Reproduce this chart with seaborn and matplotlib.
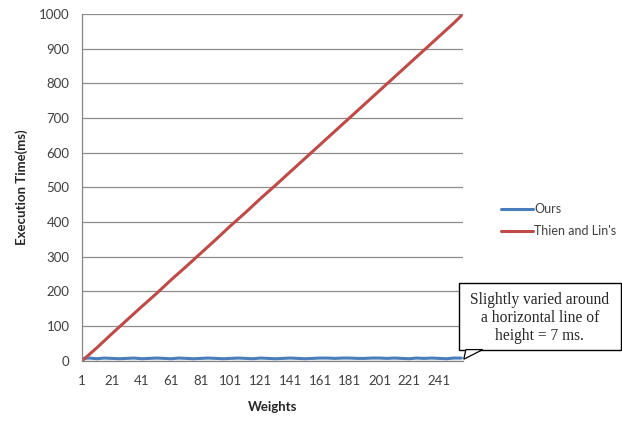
import numpy as np
import pandas as pd
import matplotlib
matplotlib.use("Agg")
import matplotlib.pyplot as plt
from matplotlib.patches import Rectangle, Polygon
import seaborn as sns

red_w = [1, 11, 21, 31, 41, 51, 61, 71, 81, 91, 101, 111, 121, 131, 141, 151,
         161, 171, 181, 191, 201, 211, 221, 231, 241, 251, 256]
red_t = [0, 38, 78, 117, 156, 194, 234, 272, 311, 350, 390, 428, 468, 506, 545, 584,
         623, 662, 701, 740, 779, 818, 857, 896, 935, 974, 995]

blue_w = [1, 6, 11, 16, 21, 26, 31, 36, 41, 46, 51, 56, 61, 66, 71, 76, 81, 86, 91, 96,
          101, 106, 111, 116, 121, 126, 131, 136, 141, 146, 151, 156, 161, 166, 171, 176,
          181, 186, 191, 196, 201, 206, 211, 216, 221, 226, 231, 236, 241, 246, 251, 256]
blue_t = [7, 8, 6, 8, 7, 6, 7, 8, 6, 7, 8, 7, 6, 8, 7, 6, 7, 8, 7, 6,
          7, 8, 7, 6, 8, 7, 6, 7, 8, 7, 6, 7, 8, 8, 7, 8,
          8, 7, 7, 8, 8, 7, 8, 7, 6, 8, 7, 8, 7, 6, 8, 8]

series_names = ["Ours", "Thien and Lin's"]
x_ticks = list(range(1, 256, 20))
y_ticks = list(range(0, 1001, 100))

df = pd.concat([
    pd.DataFrame({"Weights": blue_w, "Time": blue_t, "Method": series_names[0]}),
    pd.DataFrame({"Weights": red_w, "Time": red_t, "Method": series_names[1]}),
])

sns.set_style("white")
plt.rcParams["font.family"] = ["Lato", "DejaVu Sans"]

fig = plt.figure(figsize=(6.22, 4.24), dpi=100)
ax = fig.add_axes([0.132, 0.149, 0.612, 0.818])

sns.lineplot(data=df, x="Weights", y="Time", hue="Method",
             palette=["#4A7EBB", "#BE4B48"], linewidth=2.2, ax=ax)

ax.set_xlim(1, 257)
ax.set_ylim(0, 1000)
ax.set_xticks(x_ticks)
ax.set_yticks(y_ticks)
ax.tick_params(axis="both", labelsize=9.5, colors="#404040")
ax.tick_params(axis="y", length=5, color="#868686", pad=4)
ax.tick_params(axis="x", length=0, pad=10)
ax.yaxis.grid(True, color="#8c8c8c", linewidth=0.9)
ax.set_axisbelow(True)
for s in ["top", "right"]:
    ax.spines[s].set_visible(False)
for s in ["left", "bottom"]:
    ax.spines[s].set_color("#868686")
    ax.spines[s].set_linewidth(0.9)

ax.set_xlabel("Weights", fontsize=9.5, fontweight="bold", labelpad=10)
ax.set_ylabel("Execution Time(ms)", fontsize=9.5, fontweight="bold", labelpad=8)

leg = ax.legend(loc="center left", bbox_to_anchor=(1.07, 0.406), frameon=False,
                fontsize=9, handlelength=2.6, handletextpad=0.1, labelspacing=0.8)
for t in leg.get_texts():
    t.set_color("#404040")

# callout box with a thin wedge pointing at the end of the blue line
box = Rectangle((0.738, 0.1745), 0.2605, 0.158, transform=fig.transFigure,
                fc="white", ec="black", lw=1, clip_on=False, zorder=5)
fig.patches.append(box)

tip = fig.transFigure.inverted().transform(ax.transData.transform((256, 7)))
tip = (tip[0] + 0.004, tip[1] - 0.002)
tail = Polygon([(0.749, 0.1755), (0.776, 0.1755), tip], closed=True,
               transform=fig.transFigure, fc="white", ec="black", lw=0.9,
               clip_on=False, zorder=6)
fig.patches.append(tail)

fig.text(0.868, 0.25, "Slightly varied around\na horizontal line of\nheight = 7 ms.",
         ha="center", va="center", fontsize=11.2, linespacing=1.2,
         family=["Liberation Serif", "DejaVu Serif"], zorder=7)

fig.savefig("out.png", dpi=100)
